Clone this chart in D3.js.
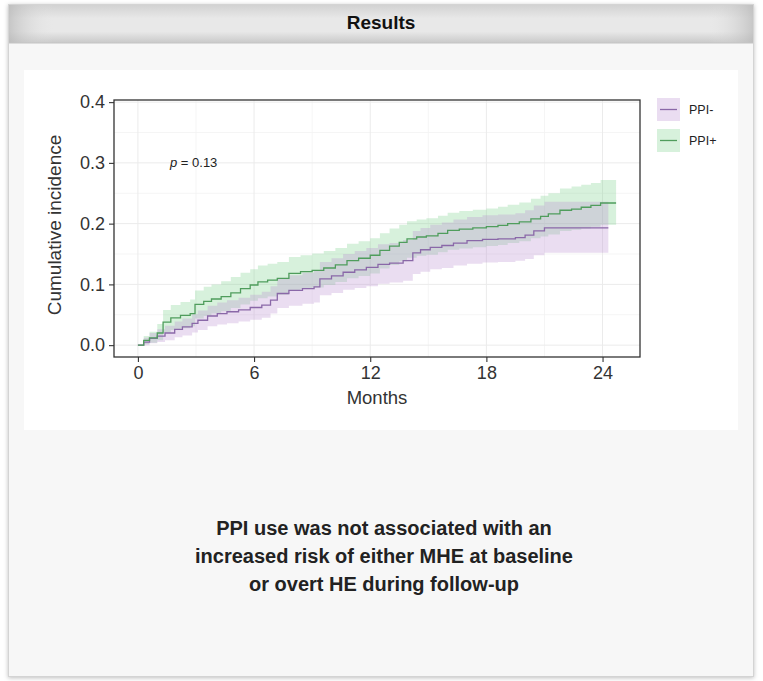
<!DOCTYPE html>
<html>
<head>
<meta charset="utf-8">
<script src="https://cdn.jsdelivr.net/npm/d3@7"></script>
<style>
  body { margin: 0; background: #fff; }
  svg { display: block; font-family: "Liberation Sans", Arial, sans-serif; }
</style>
</head>
<body>
<script>
// PPI+ (green) cumulative incidence with 95% band
var plusTime  = [0, 0.3, 0.6, 1.0, 1.3, 1.7, 2.2, 2.7, 2.95, 3.4, 3.8, 4.3, 4.8, 5.3, 5.8, 6.2, 6.7, 7.2, 7.8, 8.4, 9.0, 9.6, 10.2, 10.8, 11.4, 12.0, 12.5, 13.0, 13.5, 13.9, 14.4, 14.9, 15.5, 16.0, 16.6, 17.3, 18.0, 18.6, 19.1, 19.7, 20.3, 20.8, 21.2, 21.8, 22.4, 22.9, 23.4, 23.9, 24.7];
var plusEst   = [0, 0.008, 0.012, 0.02, 0.038, 0.045, 0.049, 0.052, 0.067, 0.072, 0.076, 0.08, 0.086, 0.093, 0.099, 0.104, 0.107, 0.11, 0.118, 0.121, 0.123, 0.127, 0.132, 0.139, 0.143, 0.148, 0.156, 0.163, 0.169, 0.175, 0.178, 0.18, 0.184, 0.189, 0.191, 0.193, 0.195, 0.197, 0.2, 0.203, 0.208, 0.212, 0.216, 0.222, 0.224, 0.227, 0.23, 0.234, 0.234];
var plusLow   = [0, 0.002, 0.004, 0.008, 0.02, 0.025, 0.028, 0.031, 0.044, 0.048, 0.052, 0.056, 0.061, 0.067, 0.073, 0.077, 0.08, 0.083, 0.09, 0.093, 0.095, 0.099, 0.104, 0.11, 0.114, 0.118, 0.126, 0.132, 0.138, 0.144, 0.147, 0.149, 0.153, 0.157, 0.159, 0.161, 0.163, 0.165, 0.168, 0.171, 0.176, 0.179, 0.182, 0.188, 0.19, 0.192, 0.195, 0.198, 0.198];
var plusHigh  = [0, 0.015, 0.022, 0.035, 0.058, 0.066, 0.071, 0.075, 0.09, 0.096, 0.1, 0.105, 0.112, 0.119, 0.125, 0.131, 0.134, 0.137, 0.145, 0.148, 0.151, 0.155, 0.16, 0.167, 0.171, 0.176, 0.184, 0.192, 0.198, 0.204, 0.207, 0.209, 0.213, 0.218, 0.221, 0.223, 0.225, 0.228, 0.231, 0.235, 0.241, 0.246, 0.25, 0.258, 0.261, 0.264, 0.267, 0.272, 0.272];

// PPI- (purple)
var minusTime = [0, 0.3, 0.6, 1.0, 1.4, 1.9, 2.3, 2.8, 3.1, 3.6, 4.1, 4.6, 5.2, 5.8, 6.4, 6.85, 7.2, 7.8, 8.5, 9.1, 9.4, 10.0, 10.6, 11.2, 11.8, 12.4, 13.0, 13.7, 14.2, 14.6, 15.1, 15.7, 16.3, 17.0, 17.8, 18.6, 19.5, 20.0, 20.45, 21.0, 24.3];
var minusEst  = [0, 0.005, 0.011, 0.015, 0.02, 0.026, 0.03, 0.036, 0.041, 0.048, 0.052, 0.055, 0.058, 0.062, 0.066, 0.074, 0.085, 0.09, 0.093, 0.096, 0.109, 0.114, 0.12, 0.124, 0.128, 0.133, 0.135, 0.139, 0.152, 0.157, 0.161, 0.164, 0.168, 0.172, 0.174, 0.175, 0.177, 0.181, 0.188, 0.193, 0.193];
var minusLow  = [0, 0, 0.003, 0.005, 0.008, 0.013, 0.016, 0.021, 0.025, 0.031, 0.034, 0.036, 0.039, 0.042, 0.045, 0.052, 0.061, 0.065, 0.068, 0.07, 0.082, 0.086, 0.091, 0.094, 0.097, 0.101, 0.103, 0.106, 0.117, 0.121, 0.125, 0.127, 0.131, 0.134, 0.136, 0.137, 0.139, 0.142, 0.148, 0.152, 0.152];
var minusHigh = [0, 0.012, 0.02, 0.026, 0.032, 0.039, 0.044, 0.051, 0.057, 0.065, 0.07, 0.074, 0.078, 0.083, 0.088, 0.097, 0.109, 0.115, 0.119, 0.122, 0.137, 0.143, 0.15, 0.155, 0.16, 0.166, 0.168, 0.173, 0.188, 0.193, 0.198, 0.202, 0.207, 0.211, 0.214, 0.215, 0.217, 0.222, 0.23, 0.236, 0.236];

var xTicks = [0, 6, 12, 18, 24];
var yTicks = [0, 0.1, 0.2, 0.3, 0.4];
var groups = ["PPI-", "PPI+"];
var summary = ["PPI use was not associated with an",
               "increased risk of either MHE at baseline",
               "or overt HE during follow-up"];

var W = 763, H = 681;
var svg = d3.select("body").append("svg")
  .attr("width", W).attr("height", H);

var defs = svg.append("defs");
var sh = defs.append("filter").attr("id", "shadow")
  .attr("x", "-5%").attr("y", "-5%").attr("width", "110%").attr("height", "110%");
sh.append("feDropShadow").attr("dx", 0).attr("dy", 1).attr("stdDeviation", 2)
  .attr("flood-color", "#000").attr("flood-opacity", 0.25);

var hg = defs.append("linearGradient").attr("id", "hdr").attr("x1", 0).attr("y1", 0).attr("x2", 0).attr("y2", 1);
hg.append("stop").attr("offset", "0%").attr("stop-color", "#d2d2d2");
hg.append("stop").attr("offset", "35%").attr("stop-color", "#e8e8e8");
hg.append("stop").attr("offset", "70%").attr("stop-color", "#e8e8e8");
hg.append("stop").attr("offset", "100%").attr("stop-color", "#c9c9c9");
var hs = defs.append("linearGradient").attr("id", "hdrside").attr("x1", 0).attr("y1", 0).attr("x2", 1).attr("y2", 0);
hs.append("stop").attr("offset", "0%").attr("stop-color", "#b8b8b8").attr("stop-opacity", 0.7);
hs.append("stop").attr("offset", "6%").attr("stop-color", "#e5e5e5").attr("stop-opacity", 0);
hs.append("stop").attr("offset", "94%").attr("stop-color", "#e5e5e5").attr("stop-opacity", 0);
hs.append("stop").attr("offset", "100%").attr("stop-color", "#b8b8b8").attr("stop-opacity", 0.7);

// outer card
svg.append("rect").attr("x", 8.5).attr("y", 4.5).attr("width", 745).attr("height", 672)
  .attr("fill", "#f7f7f7").attr("stroke", "#d4d4d4").attr("filter", "url(#shadow)");
svg.append("rect").attr("x", 9).attr("y", 5).attr("width", 744).attr("height", 38).attr("fill", "url(#hdr)");
svg.append("rect").attr("x", 9).attr("y", 5).attr("width", 744).attr("height", 38).attr("fill", "url(#hdrside)");
svg.append("line").attr("x1", 9).attr("x2", 753).attr("y1", 43).attr("y2", 43).attr("stroke", "#c4c4c4");

svg.append("text").attr("x", 381).attr("y", 29)
  .attr("text-anchor", "middle").style("font-weight", "bold").style("font-size", "19px")
  .attr("fill", "#111").text("Results");

// white figure box
svg.append("rect").attr("x", 24).attr("y", 70).attr("width", 714).attr("height", 360).attr("fill", "#fff");

var margin = {left: 114, right: 640, top: 100, bottom: 357};
var x = d3.scaleLinear().domain([-1.235, 25.935]).range([margin.left, margin.right]);
var y = d3.scaleLinear().domain([-0.0195, 0.4035]).range([margin.bottom, margin.top]);

var g = svg.append("g");

// grid
var minorX = [3, 9, 15, 21], minorY = [0.05, 0.15, 0.25, 0.35];
g.selectAll(".mx").data(minorX).enter().append("line")
  .attr("x1", d => x(d)).attr("x2", d => x(d)).attr("y1", margin.top).attr("y2", margin.bottom)
  .attr("stroke", "#f3f3f3").attr("stroke-width", 0.8);
g.selectAll(".my").data(minorY).enter().append("line")
  .attr("y1", d => y(d)).attr("y2", d => y(d)).attr("x1", margin.left).attr("x2", margin.right)
  .attr("stroke", "#f3f3f3").attr("stroke-width", 0.8);
g.selectAll(".gx").data(xTicks).enter().append("line")
  .attr("x1", d => x(d)).attr("x2", d => x(d)).attr("y1", margin.top).attr("y2", margin.bottom)
  .attr("stroke", "#ebebeb").attr("stroke-width", 1);
g.selectAll(".gy").data(yTicks).enter().append("line")
  .attr("y1", d => y(d)).attr("y2", d => y(d)).attr("x1", margin.left).attr("x2", margin.right)
  .attr("stroke", "#ebebeb").attr("stroke-width", 1);

function rows(t, e, lo, hi) {
  return t.map(function(d, i) { return {t: d, est: e[i], lo: lo[i], hi: hi[i]}; });
}
var minus = rows(minusTime, minusEst, minusLow, minusHigh);
var plus = rows(plusTime, plusEst, plusLow, plusHigh);

var band = d3.area().curve(d3.curveStepAfter)
  .x(d => x(d.t)).y0(d => y(d.lo)).y1(d => y(d.hi));
var line = d3.line().curve(d3.curveStepAfter)
  .x(d => x(d.t)).y(d => y(d.est));

var color = d3.scaleOrdinal().domain(groups).range(["#8a68a8", "#4f9d5c"]);
var fill = d3.scaleOrdinal().domain(groups).range(["#b890d0", "#7ccf8a"]);

g.append("path").datum(plus).attr("d", band).attr("fill", fill("PPI+")).attr("fill-opacity", 0.3);
g.append("path").datum(minus).attr("d", band).attr("fill", fill("PPI-")).attr("fill-opacity", 0.3);
g.append("path").datum(minus).attr("d", line).attr("fill", "none")
  .attr("stroke", color("PPI-")).attr("stroke-width", 1.3);
g.append("path").datum(plus).attr("d", line).attr("fill", "none")
  .attr("stroke", color("PPI+")).attr("stroke-width", 1.3);

// panel border
g.append("rect").attr("x", margin.left).attr("y", margin.top)
  .attr("width", margin.right - margin.left).attr("height", margin.bottom - margin.top)
  .attr("fill", "none").attr("stroke", "#333").attr("stroke-width", 1.3);

// axes
var xAxis = svg.append("g").attr("transform", "translate(0," + margin.bottom + ")")
  .call(d3.axisBottom(x).tickValues(xTicks).tickSize(5).tickPadding(4).tickFormat(d3.format("d")));
var yAxis = svg.append("g").attr("transform", "translate(" + margin.left + ",0)")
  .call(d3.axisLeft(y).tickValues(yTicks).tickSize(5).tickPadding(4).tickFormat(d3.format(".1f")));
[xAxis, yAxis].forEach(function(a) {
  a.select(".domain").remove();
  a.selectAll(".tick line").attr("stroke", "#333").attr("stroke-width", 1.1);
  a.selectAll(".tick text").attr("fill", "#333").style("font-size", "18px")
    .style("font-family", "'Liberation Sans', Arial, sans-serif");
});

svg.append("text").attr("x", (margin.left + margin.right) / 2).attr("y", 404)
  .attr("text-anchor", "middle").style("font-size", "18.5px").attr("fill", "#333").text("Months");
svg.append("text").attr("transform", "translate(61,225) rotate(-90)")
  .attr("text-anchor", "middle").style("font-size", "19px").attr("fill", "#333").text("Cumulative incidence");

// p value
var pt = svg.append("text").attr("x", 170).attr("y", 167).style("font-size", "13px").attr("fill", "#222");
pt.append("tspan").style("font-style", "italic").text("p");
pt.append("tspan").text(" = 0.13");

// legend
var legend = svg.selectAll(".legend").data(groups).enter().append("g")
  .attr("transform", (d, i) => "translate(657," + (98 + i * 31) + ")");
legend.append("rect").attr("width", 23).attr("height", 23)
  .attr("fill", d => fill(d)).attr("fill-opacity", 0.3);
legend.append("line").attr("x1", 3).attr("x2", 20).attr("y1", 11.5).attr("y2", 11.5)
  .attr("stroke", d => color(d)).attr("stroke-width", 1.3);
legend.append("text").attr("x", 32).attr("y", 16).style("font-size", "12.5px").attr("fill", "#222")
  .text(d => d);

// bottom message
svg.selectAll(".msg").data(summary).enter().append("text")
  .attr("x", 384).attr("y", (d, i) => 535 + i * 28)
  .attr("text-anchor", "middle").style("font-weight", "bold").style("font-size", "20px")
  .attr("fill", "#222").text(d => d);
</script>
</body>
</html>
